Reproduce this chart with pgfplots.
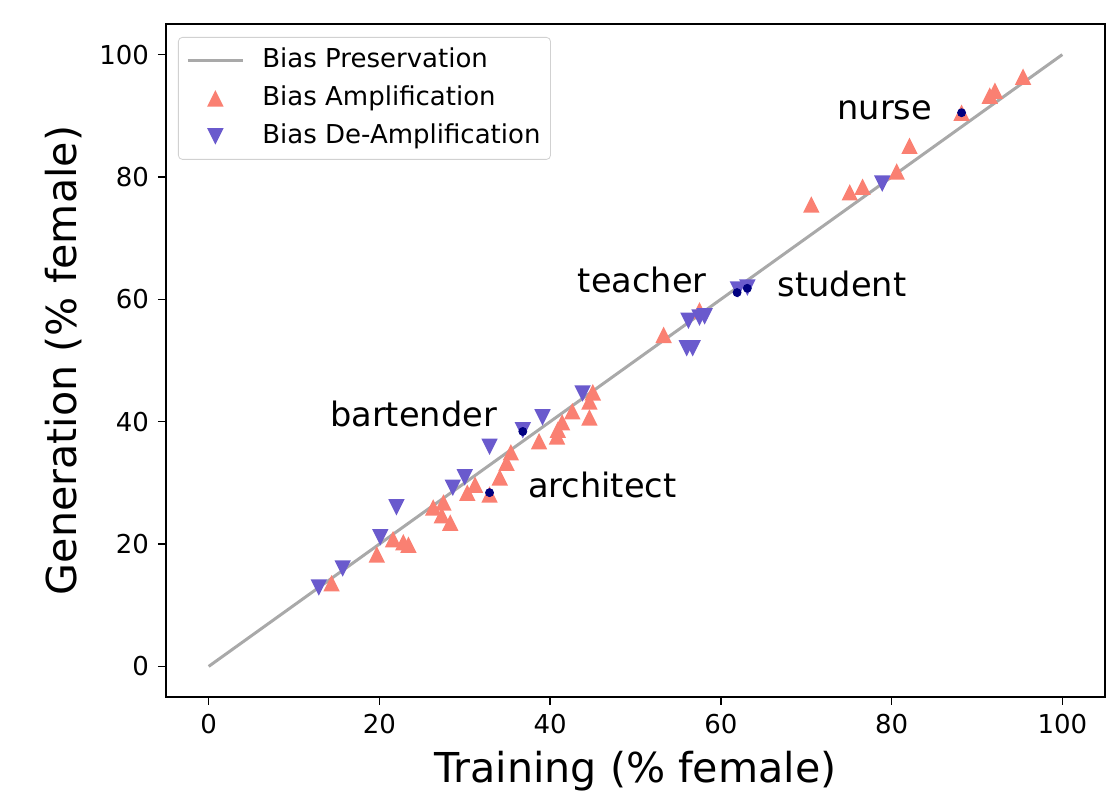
\documentclass[border=0pt]{standalone}
\usepackage{fontspec}
\setmainfont{DejaVu Sans}
\usepackage{pgfplots}
\pgfplotsset{compat=1.18}

\definecolor{amp}{HTML}{FA8072}
\definecolor{deamp}{HTML}{6A5ACD}
\definecolor{dotc}{HTML}{000080}
\definecolor{lgray}{HTML}{A9A9A9}

\pgfdeclareplotmark{tup}{%
  \pgfpathmoveto{\pgfqpoint{0pt}{\pgfplotmarksize}}%
  \pgfpathlineto{\pgfqpoint{-\pgfplotmarksize}{-\pgfplotmarksize}}%
  \pgfpathlineto{\pgfqpoint{\pgfplotmarksize}{-\pgfplotmarksize}}%
  \pgfpathclose\pgfusepathqfill}
\pgfdeclareplotmark{tdown}{%
  \pgfpathmoveto{\pgfqpoint{0pt}{-\pgfplotmarksize}}%
  \pgfpathlineto{\pgfqpoint{-\pgfplotmarksize}{\pgfplotmarksize}}%
  \pgfpathlineto{\pgfqpoint{\pgfplotmarksize}{\pgfplotmarksize}}%
  \pgfpathclose\pgfusepathqfill}

\pgfplotstableread{
x y
14.4 13.6
19.7 18.3
21.6 20.8
22.8 20.3
23.4 19.9
26.3 26.0
27.5 26.8
27.3 24.7
28.3 23.5
30.3 28.4
31.2 29.7
32.9 28.1
34.1 30.9
34.9 33.3
35.4 35.0
38.7 36.8
40.8 37.6
40.9 38.7
41.4 39.9
42.6 41.7
44.6 40.7
44.6 43.3
45.0 44.8
53.3 54.2
57.5 58.2
70.6 75.5
75.1 77.5
76.6 78.4
80.6 80.9
82.1 85.1
88.2 90.5
91.5 93.3
92.1 94.1
95.4 96.4
}\amptable

\pgfplotstableread{
x y
12.9 12.9
15.7 16.0
20.1 21.1
22.0 26.0
28.6 29.2
30.0 30.9
32.9 35.9
36.8 38.6
39.1 40.7
43.8 44.6
56.0 52.0
56.7 52.0
56.2 56.5
57.5 57.0
58.1 57.2
62.0 61.6
63.1 61.9
78.9 78.9
}\deamptable

\pgfplotstableread{
x y
88.2 90.5
61.9 61.1
63.1 61.8
36.8 38.4
32.9 28.4
}\dottable

\begin{document}
\begin{tikzpicture}
\begin{axis}[
  name=ax,
  scale only axis,
  width=469.5pt, height=336.5pt,
  xmin=-5, xmax=105, ymin=-5, ymax=105,
  xtick={0,20,...,100}, ytick={0,20,...,100},
  tick align=outside,
  major tick length=4pt,
  tick style={black, line width=0.8pt},
  axis line style={line width=0.9pt},
  xtick pos=bottom, ytick pos=left,
  /pgf/number format/assume math mode=true,
  ticklabel style={font=\fontsize{13}{15}\selectfont},
  xticklabel style={yshift=-1pt},
  yticklabel style={xshift=-1pt},
  xlabel={Training (\% female)},
  ylabel={Generation (\% female)},
  label style={font=\fontsize{20.6}{24}\selectfont},
  xlabel style={at={(axis description cs:0.5,0)}, anchor=base, yshift=-42.5pt},
  ylabel style={at={(axis description cs:-0.0958,0.5)}, anchor=base},
  legend style={at={(0,1)}, anchor=north west, xshift=6pt, yshift=-6.5pt,
    draw=black!18, rounded corners=2pt, fill=white,
    font=\fontsize{13}{15}\selectfont,
    inner xsep=4pt, inner ysep=4pt, row sep=4pt, column sep=8pt,
    nodes={inner sep=1pt, text height=10pt, text depth=3pt}},
  legend cell align=left,
  legend image code/.code={\draw[mark repeat=2,mark phase=2,#1] plot coordinates {(0pt,0pt) (13.75pt,0pt) (27.5pt,0pt)};},
  clip=false,
]
\addlegendimage{color=lgray, line width=1.5pt, mark=none}
\addlegendentry{Bias Preservation}
\addplot[only marks, color=amp, mark=tup, mark size=4.1pt] table[x=x,y=y] {\amptable};
\addlegendentry{Bias Amplification}
\addplot[only marks, color=deamp, mark=tdown, mark size=4.1pt] table[x=x,y=y] {\deamptable};
\addlegendentry{Bias De-Amplification}
\addplot[forget plot, color=lgray, line width=1.5pt, mark=none] coordinates {(0,0) (100,100)};
\addplot[forget plot, only marks, color=dotc, mark=*, mark size=2pt] table[x=x,y=y] {\dottable};
\node[anchor=base, font=\fontsize{16.8}{20}\selectfont] at (axis cs:79.2,89.4) {nurse};
\node[anchor=base, font=\fontsize{16.8}{20}\selectfont] at (axis cs:50.8,61.1) {teacher};
\node[anchor=base, font=\fontsize{16.8}{20}\selectfont] at (axis cs:74.2,60.5) {student};
\node[anchor=base, font=\fontsize{16.8}{20}\selectfont] at (axis cs:24.0,39.2) {bartender};
\node[anchor=base, font=\fontsize{16.8}{20}\selectfont] at (axis cs:46.1,27.6) {architect};
\end{axis}
\useasboundingbox ([xshift=-83pt,yshift=-46pt]ax.south west) rectangle ([xshift=7.5pt,yshift=12pt]ax.north east);
\end{tikzpicture}
\end{document}
